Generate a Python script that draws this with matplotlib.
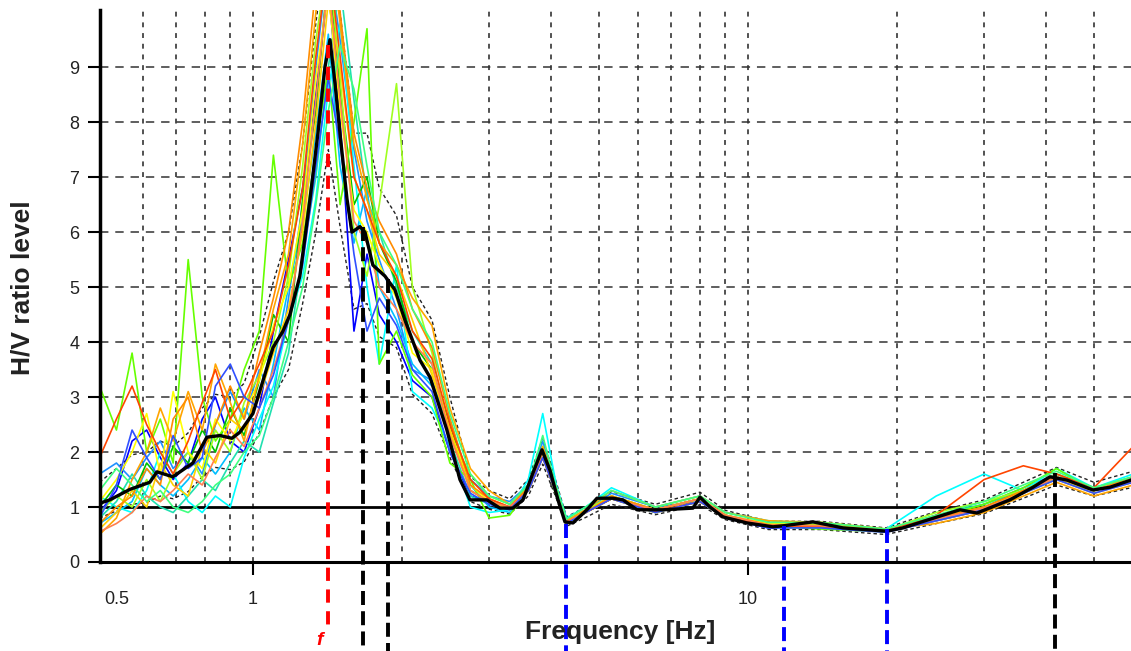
import numpy as np
import matplotlib
matplotlib.use('Agg')
from matplotlib import pyplot as plt

plt.rcParams['font.family'] = ['Liberation Sans', 'DejaVu Sans']

# average H/V curve (thick black)
freq_mean = [0.491, 0.514, 0.564, 0.619, 0.640, 0.689, 0.756, 0.807, 0.858, 0.907, 0.941, 1.0,
             1.048, 1.098, 1.150, 1.188, 1.244, 1.304, 1.353, 1.398, 1.431, 1.465, 1.499, 1.549,
             1.585, 1.645, 1.684, 1.747, 1.848, 1.936, 2.028, 2.175, 2.279, 2.465, 2.619, 2.744,
             2.970, 3.155, 3.352, 3.512, 3.679, 3.836, 3.981, 4.133, 4.269, 4.431, 4.729, 4.954,
             5.337, 5.591, 5.967, 6.735, 7.743, 8.0, 8.380, 8.902, 9.954, 11.23, 11.82, 13.53,
             15.56, 19.09, 20.56, 22.99, 26.81, 29.01, 33.83, 37.65, 40.75, 44.10, 49.77, 53.86,
             59.38]
hv_mean = [1.07, 1.13, 1.32, 1.45, 1.64, 1.55, 1.8, 2.27, 2.3, 2.25, 2.36, 2.7,
           3.3, 3.9, 4.2, 4.5, 5.2, 6.6, 7.8, 9.0, 9.5, 8.7, 7.8, 6.6,
           6.0, 6.1, 6.0, 5.4, 5.2, 4.95, 4.4, 3.67, 3.36, 2.4, 1.5, 1.13,
           1.13, 0.98, 0.98, 1.13, 1.62, 2.04, 1.67, 1.13, 0.73, 0.71, 0.95, 1.16,
           1.16, 1.13, 0.95, 0.95, 0.98, 1.18, 1.0, 0.82, 0.71, 0.64, 0.66, 0.73,
           0.62, 0.56, 0.62, 0.76, 0.95, 0.89, 1.13, 1.36, 1.55, 1.49, 1.31, 1.36,
           1.49]

# individual time windows
freq_win = [0.49, 0.53, 0.57, 0.61, 0.65, 0.69, 0.74, 0.79, 0.84, 0.9, 0.96, 1.03, 1.1, 1.18,
            1.26, 1.34, 1.42, 1.5, 1.6, 1.7, 1.8, 1.95, 2.1, 2.3, 2.5, 2.75, 3.0, 3.3, 3.6,
            3.85, 4.1, 4.3, 4.7, 5.3, 6.5, 8.0, 9.0, 11, 14, 19, 24, 30, 36, 42, 50, 60]

win_01 = [0.9, 1.3, 2.2, 2.4, 1.9, 1.5, 1.8, 2.6, 3.0, 2.2, 2.0, 2.8, 4.2, 5.5, 6.8, 8.5, 10.5, 8.0, 4.2, 5.6, 4.5, 4.0, 3.3, 3.0, 2.0, 1.2, 1.1, 0.95, 1.3, 2.1, 1.2, 0.7, 0.9, 1.2, 0.9, 1.1, 0.8, 0.62, 0.65, 0.55, 0.75, 0.95, 1.3, 1.5, 1.3, 1.45]
win_02 = [1.6, 1.8, 1.5, 1.9, 2.2, 1.7, 2.0, 1.6, 2.5, 3.1, 2.6, 3.5, 3.0, 4.8, 6.5, 9.0, 11.0, 9.5, 7.5, 6.2, 5.5, 4.6, 3.5, 3.3, 2.3, 1.5, 1.2, 1.1, 1.4, 2.2, 1.3, 0.75, 0.95, 1.25, 1.0, 1.1, 0.85, 0.7, 0.7, 0.58, 0.85, 1.05, 1.35, 1.6, 1.35, 1.55]
win_03 = [0.7, 0.9, 1.1, 1.7, 1.4, 1.2, 1.5, 1.9, 1.6, 2.0, 2.8, 2.4, 3.6, 5.0, 6.2, 7.8, 9.6, 7.2, 5.8, 6.8, 5.0, 4.4, 3.6, 3.2, 2.6, 1.4, 1.0, 0.9, 1.3, 1.9, 1.25, 0.72, 0.9, 1.2, 0.95, 1.15, 0.85, 0.66, 0.64, 0.55, 0.8, 1.0, 1.25, 1.6, 1.3, 1.5]
win_04 = [1.2, 1.0, 0.9, 1.3, 2.0, 1.6, 1.1, 0.9, 1.2, 1.0, 1.9, 2.6, 3.2, 4.4, 5.2, 6.6, 8.6, 9.8, 7.2, 5.0, 3.6, 5.4, 3.1, 2.8, 2.1, 1.0, 0.9, 0.95, 1.5, 2.7, 1.4, 0.8, 1.0, 1.35, 1.0, 1.2, 0.9, 0.75, 0.7, 0.6, 1.2, 1.6, 1.3, 1.7, 1.35, 1.6]
win_05 = [0.8, 1.1, 1.6, 1.2, 1.0, 0.9, 1.2, 1.5, 1.3, 1.8, 2.2, 2.0, 2.9, 3.8, 5.6, 7.0, 9.0, 10.5, 8.4, 6.6, 6.0, 5.0, 4.2, 3.6, 2.2, 1.2, 1.05, 1.0, 1.4, 2.0, 1.3, 0.72, 0.9, 1.15, 0.95, 1.15, 0.85, 0.68, 0.66, 0.57, 0.85, 1.05, 1.3, 1.55, 1.3, 1.5]
win_06 = [1.0, 1.4, 1.2, 1.8, 1.5, 2.1, 1.8, 2.4, 2.0, 2.8, 2.3, 3.3, 4.5, 4.0, 6.6, 8.2, 10.8, 8.6, 6.5, 7.0, 5.8, 5.1, 4.0, 3.5, 2.5, 1.3, 1.1, 1.0, 1.3, 2.0, 1.3, 0.7, 0.9, 1.15, 0.95, 1.15, 0.85, 0.65, 0.65, 0.55, 0.8, 1.0, 1.3, 1.55, 1.3, 1.5]
win_07 = [3.2, 2.4, 3.8, 2.0, 2.6, 1.8, 5.5, 3.0, 2.2, 2.6, 3.5, 4.2, 7.4, 5.0, 5.8, 7.5, 9.0, 6.5, 8.0, 9.7, 3.6, 4.2, 3.4, 3.0, 1.8, 1.5, 0.8, 0.85, 1.3, 2.0, 1.2, 0.7, 0.9, 1.15, 0.9, 1.1, 0.8, 0.65, 0.6, 0.55, 0.8, 1.05, 1.35, 1.7, 1.3, 1.5]
win_08 = [0.9, 1.2, 1.0, 1.5, 1.1, 1.6, 2.0, 1.5, 2.4, 2.0, 2.9, 3.4, 4.0, 5.2, 7.2, 9.5, 11.0, 8.8, 6.0, 5.2, 6.5, 8.7, 5.0, 3.8, 2.3, 1.6, 1.2, 1.05, 1.4, 2.1, 1.35, 0.75, 0.95, 1.2, 0.95, 1.15, 0.85, 0.68, 0.68, 0.58, 0.9, 1.1, 1.3, 1.6, 1.35, 1.55]
win_09 = [1.1, 1.5, 2.0, 2.7, 1.6, 3.1, 2.0, 1.7, 2.6, 2.2, 2.7, 3.3, 4.3, 5.0, 6.4, 8.8, 10.4, 8.2, 6.4, 6.0, 5.4, 4.8, 3.8, 3.5, 2.4, 1.4, 1.1, 1.0, 1.35, 2.0, 1.3, 0.72, 0.9, 1.2, 0.95, 1.15, 0.85, 0.7, 0.72, 0.6, 0.8, 1.0, 1.25, 1.5, 1.3, 1.5]
win_10 = [0.6, 0.9, 1.3, 1.0, 1.8, 1.4, 1.2, 2.1, 1.8, 2.6, 2.4, 3.0, 3.8, 4.6, 6.0, 8.0, 10.2, 9.0, 7.0, 6.4, 5.6, 5.2, 4.4, 3.4, 2.4, 1.3, 1.1, 0.95, 1.3, 1.9, 1.25, 0.7, 0.9, 1.15, 0.9, 1.1, 0.8, 0.65, 0.65, 0.55, 0.75, 0.95, 1.3, 1.5, 1.25, 1.45]
win_11 = [0.5, 0.8, 1.5, 2.0, 2.8, 2.2, 3.1, 2.4, 3.6, 2.9, 2.2, 3.4, 4.6, 5.6, 7.6, 10.0, 11.5, 9.8, 7.6, 6.6, 5.8, 5.4, 4.8, 4.3, 2.8, 1.7, 1.3, 1.05, 1.35, 2.1, 1.35, 0.75, 0.95, 1.3, 1.0, 1.2, 0.9, 0.75, 0.72, 0.6, 0.7, 0.9, 1.2, 1.45, 1.2, 1.4]
win_12 = [0.7, 1.0, 1.2, 1.7, 1.4, 2.6, 3.0, 2.0, 2.5, 3.2, 2.6, 3.8, 4.8, 6.0, 8.0, 10.5, 12.0, 10.0, 7.8, 6.8, 6.2, 5.6, 4.6, 3.9, 2.6, 1.4, 1.15, 1.0, 1.35, 2.0, 1.3, 0.72, 0.9, 1.2, 0.95, 1.15, 0.85, 0.68, 0.66, 0.57, 0.8, 1.0, 1.3, 1.55, 1.3, 1.55]
win_13 = [1.9, 2.6, 3.2, 2.5, 2.0, 1.6, 2.2, 2.9, 3.5, 2.6, 3.0, 3.6, 4.2, 5.4, 6.8, 9.2, 11.0, 9.2, 7.0, 6.4, 5.8, 5.2, 4.2, 3.7, 2.5, 1.5, 1.15, 1.0, 1.3, 1.9, 1.25, 0.72, 0.9, 1.15, 0.92, 1.1, 0.82, 0.66, 0.64, 0.56, 0.85, 1.5, 1.75, 1.6, 1.35, 2.1]
win_14 = [0.55, 0.7, 0.9, 1.2, 1.1, 1.3, 1.6, 1.4, 1.9, 2.4, 2.1, 2.8, 3.5, 4.4, 6.2, 8.4, 10.6, 8.4, 6.2, 5.8, 5.0, 4.6, 4.0, 3.6, 2.3, 1.3, 1.1, 1.0, 1.3, 2.0, 1.3, 0.73, 0.9, 1.15, 0.95, 1.15, 0.85, 0.67, 0.66, 0.56, 0.78, 0.98, 1.25, 1.55, 1.3, 1.5]
win_15 = [0.8, 1.4, 2.4, 1.9, 1.5, 2.3, 1.7, 1.9, 3.2, 3.6, 3.0, 2.8, 3.4, 4.4, 5.4, 7.2, 8.8, 7.6, 5.6, 4.2, 4.8, 4.3, 3.5, 3.1, 2.0, 1.25, 1.05, 0.95, 1.3, 1.9, 1.25, 0.7, 0.9, 1.15, 0.9, 1.1, 0.8, 0.62, 0.62, 0.54, 0.75, 0.95, 1.25, 1.5, 1.25, 1.45]
win_16 = [1.3, 1.7, 1.4, 1.1, 1.3, 1.0, 0.9, 1.1, 1.4, 1.6, 2.0, 2.3, 3.0, 4.0, 5.0, 6.5, 8.2, 9.4, 8.6, 7.2, 6.0, 5.4, 4.6, 4.0, 2.7, 1.6, 1.2, 1.05, 1.4, 2.3, 1.35, 0.78, 1.0, 1.3, 1.0, 1.2, 0.9, 0.72, 0.72, 0.6, 0.85, 1.1, 1.4, 1.65, 1.35, 1.55]

windows = [win_01, win_02, win_03, win_04, win_05, win_06, win_07, win_08,
           win_09, win_10, win_11, win_12, win_13, win_14, win_15, win_16]
win_colors = ['#0000ff', '#1e90ff', '#00bfff', '#00ffff', '#20e0b0', '#00c000', '#66ff00', '#a0ff20',
              '#ffff00', '#ffd000', '#ffa500', '#ff8c00', '#ff4500', '#ff7f50', '#3050ff', '#40ff80']

# standard deviation curves (thin black dashed)
std_hi = [1.45, 1.7, 1.95, 2.0, 2.2, 2.1, 2.35, 2.8, 3.05, 3.0, 3.25, 4.1, 5.1, 6.0, 7.6, 9.8, 11.5, 10.0, 7.8, 7.8, 6.8, 6.3, 5.0, 4.4, 3.0, 1.55, 1.3, 1.15, 1.5, 2.25, 1.45, 0.82, 1.0, 1.28, 1.05, 1.27, 0.94, 0.74, 0.74, 0.62, 0.92, 1.13, 1.45, 1.72, 1.45, 1.65]
std_lo = [0.8, 0.93, 1.05, 1.08, 1.2, 1.15, 1.28, 1.55, 1.72, 1.68, 1.82, 2.35, 3.0, 3.5, 4.7, 6.0, 7.5, 6.1, 4.6, 4.7, 4.1, 3.9, 3.05, 2.7, 1.9, 1.1, 0.96, 0.87, 1.2, 1.78, 1.16, 0.65, 0.81, 1.05, 0.86, 1.04, 0.77, 0.59, 0.59, 0.5, 0.7, 0.88, 1.16, 1.4, 1.2, 1.36]

# picked peaks / troughs (frequency, curve level)
red_peak = (1.42, 9.4)
black_peaks = [(1.67, 6.1), (1.874, 5.15), (41.7, 1.62)]
blue_troughs = [(4.29, 0.7), (11.85, 0.65), (19.1, 0.6)]

fig = plt.figure(figsize=(11.31, 6.51), dpi=100)
ax = fig.add_axes([100 / 1131, 1 - 562 / 651, 1 - 100 / 1131, 552 / 651])
ax.set_xscale('log')
ax.set_xlim(0.491, 59.4)
ax.set_ylim(0, 10.04)

# grid
for f in [0.6, 0.7, 0.8, 0.9, 1, 2, 3, 4, 5, 6, 7, 8, 9, 10, 20, 30, 40, 50]:
    ax.axvline(f, color='#222222', lw=1.1, ls=(0, (3.2, 3.8)), zorder=1)
for v in range(2, 10):
    ax.axhline(v, color='#333333', lw=1.1, ls=(0, (5.5, 4.5)), zorder=1)
ax.axhline(1, color='black', lw=2.0, zorder=1.5)

ax.plot(freq_win, std_hi, color='#222222', lw=1.0, ls=(0, (2.5, 2)), zorder=2)
ax.plot(freq_win, std_lo, color='#222222', lw=1.0, ls=(0, (2.5, 2)), zorder=2)
for w, c in zip(windows, win_colors):
    ax.plot(freq_win, w, color=c, lw=1.2, zorder=2.5)
ax.plot(freq_mean, hv_mean, color='black', lw=2.4, zorder=4)

# marker lines going below the axis
ax.plot([red_peak[0]] * 2, [red_peak[1], -1.15], color='red', lw=2.8,
        ls=(0, (3.4, 2.2)), clip_on=False, zorder=5)
for f, v in black_peaks:
    ax.plot([f, f], [v, -1.7], color='black', lw=2.8, ls=(0, (3.6, 1.6)), clip_on=False, zorder=5)
for f, v in blue_troughs:
    ax.plot([f, f], [v, -1.7], color='#0000ff', lw=2.8, ls=(0, (3.6, 1.6)), clip_on=False, zorder=5)
fig.text(316 / 1131, 2 / 651, 'f', color='red', fontsize=14, style='italic',
         fontweight='bold', ha='left', va='bottom')

for s in ['top', 'right']:
    ax.spines[s].set_visible(False)
ax.spines['left'].set_linewidth(2.5)
ax.spines['bottom'].set_linewidth(2.2)
ax.spines['left'].set_zorder(6)
ax.spines['bottom'].set_zorder(6)

ax.set_yticks(range(0, 10))
ax.tick_params(axis='y', length=9, width=1.5, pad=6, labelsize=13, labelcolor='#222222')
ax.set_xticks([0.5, 1, 10], ['0.5', '1', '10'])
ax.xaxis.set_minor_locator(matplotlib.ticker.NullLocator())
ax.tick_params(axis='x', length=9, width=1.5, pad=12, labelsize=13, labelcolor='#222222')
ax.get_xticklabels()[0].set_ha('left')
ax.xaxis.get_major_ticks()[0].tick1line.set_visible(False)

fig.text(620 / 1131, 1 - 632 / 651, 'Frequency [Hz]', fontsize=19, fontweight='bold',
         ha='center', va='center', color='#222222')
fig.text(23 / 1131, 1 - 288 / 651, 'H/V ratio level', fontsize=19, fontweight='bold',
         ha='center', va='center', rotation=90, color='#222222')

plt.savefig('out.png', dpi=100)
